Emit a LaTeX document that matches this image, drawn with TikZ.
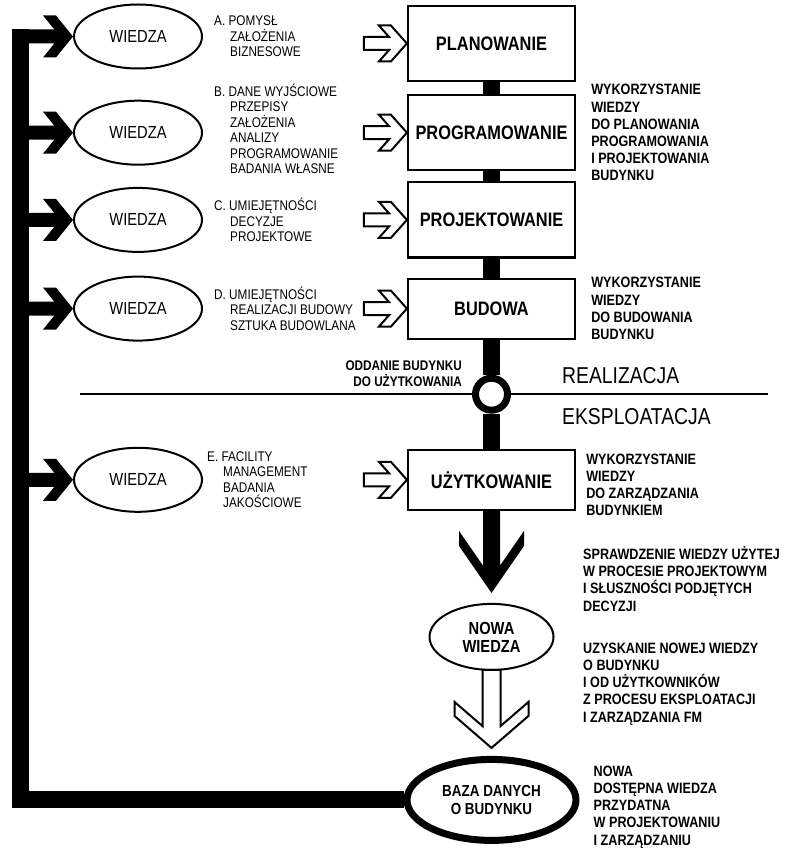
\documentclass[tikz,border=0pt]{standalone}
\usepackage{fontspec}
\setmainfont{Liberation Sans}[FakeStretch=0.84]
\usetikzlibrary{positioning,shapes.geometric}
\newcommand{\wciecie}{\hspace*{16pt}}
\tikzset{
  etap/.style={
    rectangle,
    draw=black,
    fill=white,
    line width=2.2pt,
    minimum width=167pt,
    minimum height=75pt,
    inner sep=2pt,
    font=\bfseries\fontsize{19.5}{22}\selectfont
  },
  wiedza/.style={
    ellipse,
    draw=black,
    fill=white,
    line width=2pt,
    minimum width=128pt,
    minimum height=64pt,
    inner sep=0pt,
    font=\fontsize{17.5}{20}\selectfont
  },
  owal/.style={
    ellipse,
    draw=black,
    fill=white,
    line width=2pt,
    minimum width=124pt,
    minimum height=66pt,
    inner sep=0pt,
    align=center,
    font=\bfseries\fontsize{17.5}{18}\selectfont
  },
  bazaowal/.style={
    ellipse,
    draw=black,
    fill=white,
    line width=7pt,
    minimum width=169pt,
    minimum height=81pt,
    inner sep=0pt,
    align=center,
    font=\bfseries\fontsize{16}{18}\selectfont
  },
  pierscien/.style={
    circle,
    draw=black,
    fill=white,
    line width=7pt,
    minimum size=32pt,
    inner sep=0pt
  },
  lista/.style={
    align=left,
    inner sep=0pt,
    font=\fontsize{14}{15.4}\selectfont
  },
  opis/.style={
    align=left,
    inner sep=0pt,
    font=\bfseries\fontsize{15}{17.2}\selectfont
  },
  faza/.style={
    inner sep=0pt,
    font=\fontsize{23}{26}\selectfont
  },
  pien/.style={
    draw=black,
    line width=17pt
  },
  powrot/.style={
    draw=black,
    line width=17pt,
    line join=miter
  },
  granica/.style={
    draw=black,
    line width=1.6pt
  },
  grotczarny/.style={fill=black},
  grotpusty/.style={
    draw=black,
    fill=white,
    line width=2pt,
    line join=miter
  },
  % grot w ksztalcie szewronu: dlugosc glowy, pol wysokosci, szerokosc ramienia, pol grubosci trzonu, dlugosc calkowita
  pics/grot/.style n args={5}{code={
    \path[pic actions] (-#5,#4) -- ({-#1+(#1-#3)*(#2-#4)/#2},#4) -- (-#1,#2) -- ({-#1+#3},#2) -- (0,0)
      -- ({-#1+#3},-#2) -- (-#1,-#2) -- ({-#1+(#1-#3)*(#2-#4)/#2},-#4) -- (-#5,-#4) -- cycle;
  }}
}

\begin{document}
\begin{tikzpicture}[x=1pt,y=1pt,node distance=10pt]
  \useasboundingbox (0,0) rectangle (792,-850);

  % etapy procesu
  \node[etap] (planowanie) at (491.5,-43.5) {PLANOWANIE};
  \node[etap,below=12pt of planowanie] (programowanie) {PROGRAMOWANIE};
  \node[etap,below=10pt of programowanie] (projektowanie) {PROJEKTOWANIE};
  \node[etap,below=19pt of projektowanie,minimum height=60pt] (budowa) {BUDOWA};
  \node[pierscien,below=35pt of budowa] (oddanie) {};
  \node[etap,below=35pt of oddanie,minimum height=60pt] (uzytkowanie) {UŻYTKOWANIE};
  \node[owal,below=92pt of uzytkowanie] (nowa) {NOWA\\WIEDZA};
  \node[bazaowal,below=85pt of nowa] (baza) {BAZA DANYCH\\O BUDYNKU};

  % zrodla wiedzy po lewej stronie
  \coordinate (kolumna) at (138,0);
  \node[wiedza,yshift=7pt] (w1) at (kolumna |- planowanie) {WIEDZA};
  \node[wiedza] (w2) at (kolumna |- programowanie) {WIEDZA};
  \node[wiedza] (w3) at (kolumna |- projektowanie) {WIEDZA};
  \node[wiedza] (w4) at (kolumna |- budowa) {WIEDZA};
  \node[wiedza] (w5) at (kolumna |- uzytkowanie) {WIEDZA};

  \node[lista,right=11pt of w1] (listaA) {A.~POMYSŁ\\\wciecie ZAŁOŻENIA\\\wciecie BIZNESOWE};
  \node[lista,right=11pt of w2,yshift=4pt] (listaB)
    {B.~DANE WYJŚCIOWE\\\wciecie PRZEPISY\\\wciecie ZAŁOŻENIA\\\wciecie ANALIZY\\\wciecie PROGRAMOWANIE\\\wciecie BADANIA WŁASNE};
  \node[lista,right=11pt of w3] (listaC) {C.~UMIEJĘTNOŚCI\\\wciecie DECYZJE\\\wciecie PROJEKTOWE};
  \node[lista,right=11pt of w4] (listaD) {D.~UMIEJĘTNOŚCI\\\wciecie REALIZACJI BUDOWY\\\wciecie SZTUKA BUDOWLANA};
  \node[lista,right=4pt of w5] (listaE) {E.~FACILITY\\\wciecie MANAGEMENT\\\wciecie BADANIA\\\wciecie JAKOŚCIOWE};

  % opisy po prawej stronie
  \node[opis,right=15pt of programowanie] (opis1)
    {WYKORZYSTANIE\\WIEDZY\\DO PLANOWANIA\\PROGRAMOWANIA\\I PROJEKTOWANIA\\BUDYNKU};
  \node[opis,right=15pt of budowa] (opis2) {WYKORZYSTANIE\\WIEDZY\\DO BUDOWANIA\\BUDYNKU};
  \node[opis,right=10pt of uzytkowanie,yshift=-5pt] (opis3) {WYKORZYSTANIE\\WIEDZY\\DO ZARZĄDZANIA\\BUDYNKIEM};
  \node[opis,anchor=west] (sprawdzenie) at (583,-579)
    {SPRAWDZENIE WIEDZY UŻYTEJ\\W PROCESIE PROJEKTOWYM\\I SŁUSZNOŚCI PODJĘTYCH\\DECYZJI};
  \node[opis,anchor=west] (uzyskanie) at (583,-684)
    {UZYSKANIE NOWEJ WIEDZY\\O BUDYNKU\\I OD UŻYTKOWNIKÓW\\Z PROCESU EKSPLOATACJI\\I ZARZĄDZANIA FM};
  \node[opis,right=14pt of baza,yshift=-7pt] (opis6)
    {NOWA\\DOSTĘPNA WIEDZA\\PRZYDATNA\\W PROJEKTOWANIU\\I ZARZĄDZANIU};

  % granica realizacja / eksploatacja
  \draw[granica] (oddanie.west) -- ++(-392,0);
  \draw[granica] (oddanie.east) -- ++(257,0);
  \node[opis,align=right,left=10pt of oddanie,yshift=21pt,font=\bfseries\fontsize{14}{16}\selectfont] (odbior)
    {ODDANIE BUDYNKU\\DO UŻYTKOWANIA};
  \node[faza,right=51pt of oddanie,yshift=19pt] (realizacja) {REALIZACJA};
  \node[faza,right=51pt of oddanie,yshift=-22pt] (eksploatacja) {EKSPLOATACJA};

  % pien laczacy etapy
  \draw[pien] (planowanie) -- (programowanie);
  \draw[pien] (programowanie) -- (projektowanie);
  \draw[pien] (projektowanie) -- (budowa);
  \draw[pien] (budowa) -- (oddanie);
  \draw[pien] (oddanie) -- (uzytkowanie);

  % sprzezenie zwrotne z bazy danych do zrodel wiedzy
  \coordinate (szczyt) at ([xshift=-52.5pt,yshift=7pt]w1.west);
  \draw[powrot] (baza.west) -| (szczyt);
  \pic[grotczarny] at (w1.west) {grot={30}{21}{13}{7}{61}};
  \pic[grotczarny] at (w2.west) {grot={30}{21}{13}{7}{61}};
  \pic[grotczarny] at (w3.west) {grot={30}{21}{13}{7}{61}};
  \pic[grotczarny] at (w4.west) {grot={30}{21}{13}{7}{61}};
  \pic[grotczarny] at (w5.west) {grot={30}{21}{13}{7}{61}};

  \pic[grotpusty] at (planowanie.west) {grot={28}{18}{12}{6.5}{43}};
  \pic[grotpusty] at (programowanie.west) {grot={28}{18}{12}{6.5}{43}};
  \pic[grotpusty] at (projektowanie.west) {grot={28}{18}{12}{6.5}{43}};
  \pic[grotpusty] at (budowa.west) {grot={28}{18}{12}{6.5}{43}};
  \pic[grotpusty] at (uzytkowanie.west) {grot={28}{18}{12}{6.5}{43}};

  \pic[grotczarny,rotate=-90] at ([yshift=10pt]nowa.north) {grot={62}{32.5}{15}{8.5}{83}};
  \pic[grotpusty,rotate=-90] at ([yshift=8pt]baza.north) {grot={46}{37}{14}{9}{78}};
\end{tikzpicture}
\end{document}
